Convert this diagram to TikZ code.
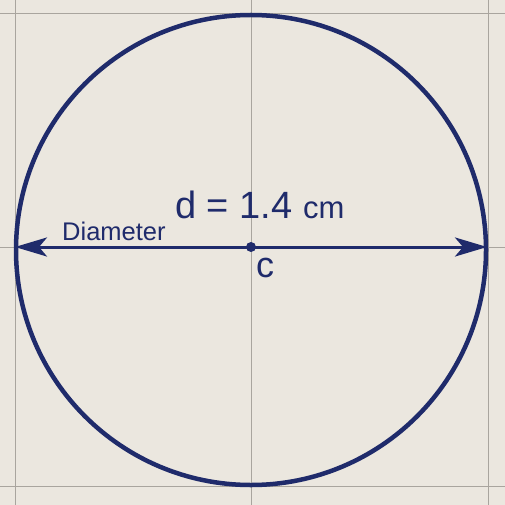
\documentclass[tikz,border=0pt]{standalone}
\usepackage{fontspec}
\setmainfont{Liberation Sans}
\usetikzlibrary{arrows.meta}
\definecolor{paper}{HTML}{EBE7DF}
\definecolor{ink}{HTML}{1F2B6B}
\definecolor{gridc}{HTML}{A9A59E}
\begin{document}
\begin{tikzpicture}[x=1pt,y=-1pt,
  gridline/.style={draw=gridc,line width=1pt},
  rim/.style={draw=ink,line width=4.5pt},
  diam/.style={draw=ink,line width=3pt,
    {Stealth[length=32pt,width=19pt,inset=8pt]}-{Stealth[length=32pt,width=19pt,inset=8pt]}},
  lbl/.style={text=ink,inner sep=0pt,anchor=base west}]
\fill[paper] (0,0) rectangle (505,505);
\useasboundingbox (0,0) rectangle (505,505);
% grid
\draw[gridline] (15,0) -- (15,505);
\draw[gridline] (251,0) -- (251,505);
\draw[gridline] (488,0) -- (488,505);
\draw[gridline] (0,14) -- (505,14);
\draw[gridline] (0,247) -- (505,247);
\draw[gridline] (0,486) -- (505,486);
% circle
\node[circle,rim,minimum size=470pt,inner sep=0pt] (circ) at (251,250) {};
% diameter
\coordinate (L) at (15,247);
\coordinate (R) at (487,247);
\draw[diam] (L) -- (R);
\node[circle,fill=ink,minimum size=10pt,inner sep=0pt] (c) at (251,247) {};
% labels
\node[lbl,font=\fontsize{25.5}{25.5}\selectfont] (dl) at (62,240) {Diameter};
\node[lbl] (dv) at (175,218) {\fontsize{38}{38}\selectfont d = 1.4 \fontsize{31}{31}\selectfont cm};
\node[lbl,font=\fontsize{36}{36}\selectfont] (cl) at (256,277) {c};
\end{tikzpicture}
\end{document}
